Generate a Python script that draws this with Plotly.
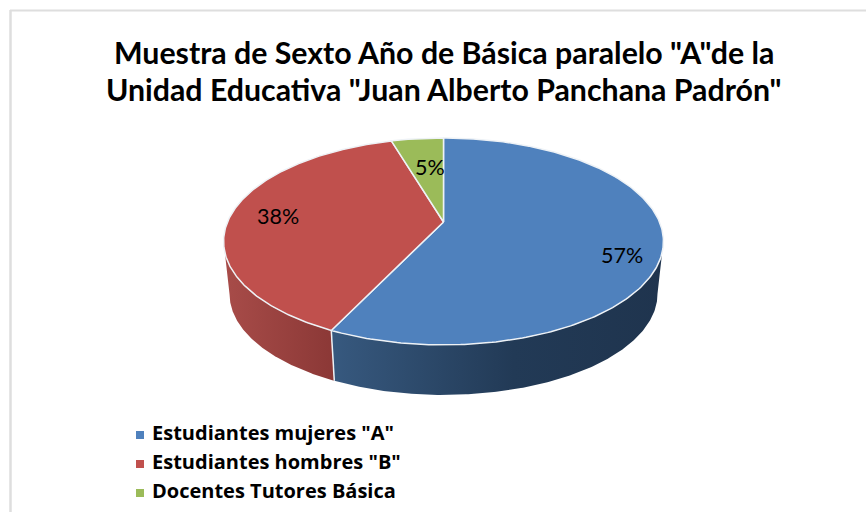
import numpy as np
import plotly.graph_objects as go

title_lines = ['Muestra de Sexto Año de Básica paralelo "A"de la',
               'Unidad Educativa "Juan Alberto Panchana Padrón"']
categories = ['Estudiantes mujeres "A"', 'Estudiantes hombres "B"', 'Docentes Tutores Básica']
values = [57.1, 38.3, 4.6]
labels = ['57%', '38%', '5%']
top_colors = ['#4F81BD', '#C0504D', '#9BBB59']

CX, CY, A, B, K = 443.5, 222.0, 216.0, 99.8, 0.188
EDGE = '#EEF2F6'


def top_xy(theta):
    """theta: clockwise angle from 12 o'clock, radians."""
    u, v = np.sin(theta), -np.cos(theta)
    w = 1 - K * v
    return CX + A * u / w, CY + B * v / w


def bottom_xy(theta):
    x, y = top_xy(theta)
    return CX + 0.973 * (x - CX), 241.5 + 0.975 * (y - 241.5) + 52.6


fracs = np.array(values) / sum(values)
edges = np.concatenate([[0], np.cumsum(fracs)]) * 2 * np.pi
fig = go.Figure()

# side walls: only the part of the rim facing the viewer
extreme = np.arcsin(K)
front_lo, front_hi = np.pi / 2 + extreme, 3 * np.pi / 2 - extreme
wall_styles = [
    [[0, '#37597F'], [0.55, '#223A56'], [1, '#1F344E']],
    [[0, '#A84C49'], [1, '#8B3836']],
]
for i, scale in enumerate(wall_styles):
    lo, hi = max(edges[i], front_lo), min(edges[i + 1], front_hi)
    t = np.linspace(lo, hi, 200)
    tx, ty = top_xy(t)
    bx, by = bottom_xy(t[::-1])
    fig.add_trace(go.Scatter(
        x=np.r_[tx, bx, tx[0]], y=np.r_[ty, by, ty[0]], mode='lines',
        line=dict(width=0), fill='toself', hoverinfo='skip', showlegend=False,
        fillgradient=dict(type='horizontal', colorscale=scale)))

# white seam between the walls
sx0, sy0 = top_xy(edges[1])
sx1, sy1 = bottom_xy(edges[1])
fig.add_trace(go.Scatter(x=[sx0, sx1], y=[sy0, sy1], mode='lines',
                         line=dict(color=EDGE, width=1.5), hoverinfo='skip', showlegend=False))

# top faces
for i, c in enumerate(top_colors):
    t = np.linspace(edges[i], edges[i + 1], 240)
    x, y = top_xy(t)
    fig.add_trace(go.Scatter(
        x=np.r_[CX, x, CX], y=np.r_[CY, y, CY], mode='lines', fill='toself',
        fillcolor=c, line=dict(color=EDGE, width=1.5), name=categories[i],
        hoverinfo='name', showlegend=False))

# percentage labels
label_r = [0.81, 0.78, 0.66]
label_dy = [14, 0, 0]
label_dx = [0, 0, 4]
for i, lab in enumerate(labels):
    x, y = top_xy((edges[i] + edges[i + 1]) / 2)
    fig.add_annotation(x=CX + label_r[i] * (x - CX) + label_dx[i],
                       y=CY + label_r[i] * (y - CY) + label_dy[i],
                       text=lab, showarrow=False,
                       font=dict(family='Lato', size=21.5, color='black'))

# legend rows
legend_y = [435, 464, 493]
for i, cat in enumerate(categories):
    fig.add_trace(go.Scatter(
        x=[140], y=[legend_y[i]], mode='markers',
        marker=dict(symbol='square', size=8, color=top_colors[i]),
        name=cat, showlegend=False))
    fig.add_trace(go.Scatter(
        x=[152], y=[legend_y[i]], mode='text', text=[cat],
        textposition='middle right',
        textfont=dict(family='Open Sans', size=20, color='black', weight='bold'),
        name=cat, showlegend=False))

# title
for line, y in zip(title_lines, [52, 89]):
    fig.add_annotation(x=444, y=y, text=f'<b>{line}</b>', showarrow=False,
                       font=dict(family='Lato', size=30.3, color='black'))

# chart frame
fig.add_shape(type='line', x0=10.5, x1=10.5, y0=10, y1=512, line=dict(color='#DEDEDE', width=2.5))
fig.add_shape(type='line', x0=10, x1=866, y0=10.5, y1=10.5, line=dict(color='#DEDEDE', width=2))

fig.update_layout(
    width=866, height=512, margin=dict(l=0, r=0, t=0, b=0),
    paper_bgcolor='white', plot_bgcolor='white', showlegend=False,
    xaxis=dict(range=[0, 866], visible=False, fixedrange=True),
    yaxis=dict(range=[512, 0], visible=False, fixedrange=True),
)
fig.write_html('out.html', config=dict(displayModeBar=False),
               post_script="document.body.style.margin='0';document.documentElement.style.overflow='hidden';")
